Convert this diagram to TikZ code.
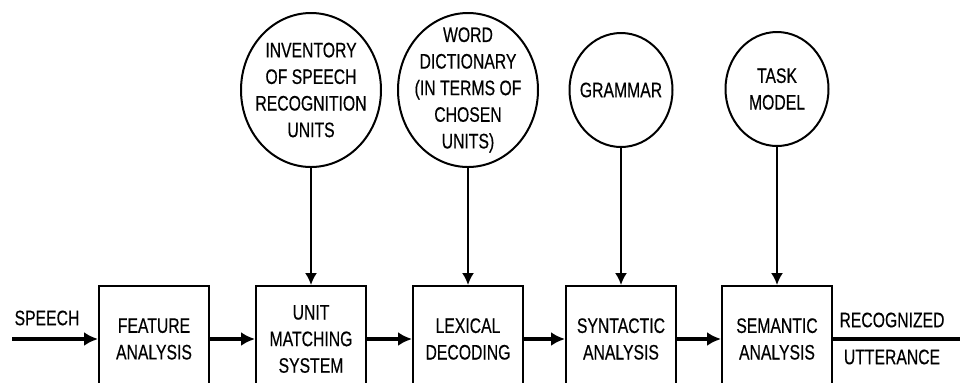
\documentclass[tikz,border=0pt]{standalone}
\usepackage{fontspec}
\setmainfont{Liberation Sans}[FakeStretch=0.75,FakeBold=0.4]
\usetikzlibrary{arrows.meta,shapes.geometric}

\begin{document}
\begin{tikzpicture}[x=0.5pt,y=-0.5pt,
    every node/.style={font=\fontsize{10.5}{13.3}\selectfont, align=center},
    block/.style={draw, line width=1pt, minimum width=55pt, minimum height=53pt, inner sep=0pt},
    store/.style={draw, ellipse, line width=1pt, inner sep=0pt, label={center:#1}},
    flow/.style={line width=1.7pt, -{Latex[length=7pt,width=7pt]}},
    feed/.style={line width=1pt, -{Latex[length=6pt,width=6pt]}}]
    \useasboundingbox (0,0) rectangle (960,382);
    \clip (0,0) rectangle (960,382);

    \node[block] (feat) at (154,339) {FEATURE\\ANALYSIS};
    \node[block] (unit) at (311,339) {UNIT\\MATCHING\\SYSTEM};
    \node[block] (lex) at (468,339) {LEXICAL\\DECODING};
    \node[block] (syn) at (621,339) {SYNTACTIC\\ANALYSIS};
    \node[block] (sem) at (777,339) {SEMANTIC\\ANALYSIS};

    \node[store={INVENTORY\\OF SPEECH\\RECOGNITION\\UNITS}, minimum width=70pt, minimum height=77pt] (inv) at (311,90) {};
    \node[store={WORD\\DICTIONARY\\(IN TERMS OF\\CHOSEN\\UNITS)}, minimum width=70pt, minimum height=77pt] (dict) at (468,90) {};
    \node[store={GRAMMAR}, minimum width=51.5pt, minimum height=57pt] (gram) at (621,90) {};
    \node[store={TASK\\MODEL}, minimum width=51.5pt, minimum height=57pt] (task) at (777,89) {};

    \coordinate (in) at (12,339);
    \coordinate (out) at (960,339);
    \node (speech) at (47,318) {SPEECH};
    \node (recog) at (892,320) {RECOGNIZED};
    \node (utter) at (892,357) {UTTERANCE};

    \draw[flow] (in) -- (feat);
    \draw[flow] (feat) -- (unit);
    \draw[flow] (unit) -- (lex);
    \draw[flow] (lex) -- (syn);
    \draw[flow] (syn) -- (sem);
    \draw[line width=1.7pt] (sem) -- (out);

    \draw[feed] (inv) -- (unit);
    \draw[feed] (dict) -- (lex);
    \draw[feed] (gram) -- (syn);
    \draw[feed] (task) -- (sem);
\end{tikzpicture}
\end{document}
